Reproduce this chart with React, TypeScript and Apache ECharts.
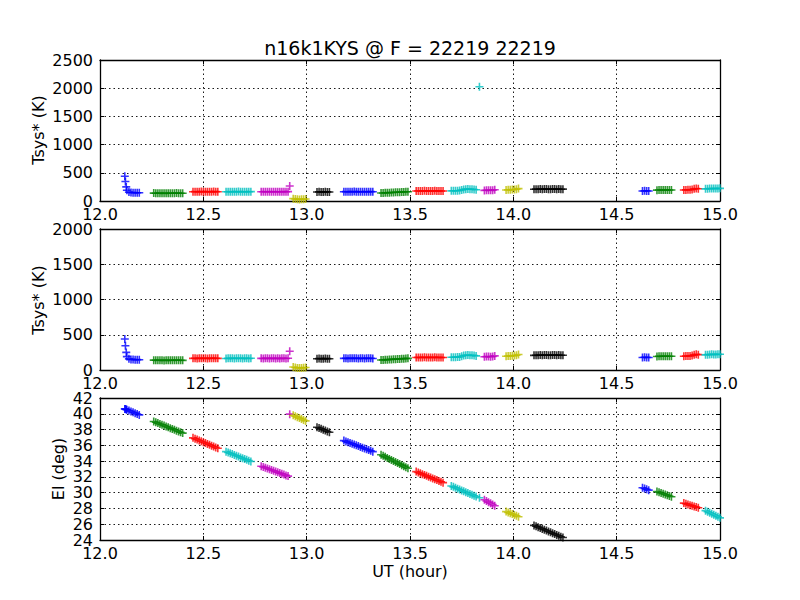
import React, { useEffect, useRef } from 'react';
import * as echarts from 'echarts';

// matplotlib classic colour cycle b, g, r, c, m, y, k
const colorCycle = ['#0000ff', '#008000', '#ff0000', '#00bfbf', '#bf00bf', '#bfbf00', '#000000'];

const chartTitle = 'n16k1KYS @ F = 22219 22219';
const xLabel = 'UT (hour)';
const tsysLabel = 'Tsys* (K)';
const elLabel = 'El (deg)';

// UT (hour) of each sample, one list per scan
const scanUT: number[][] = [
  [12.12, 12.123, 12.127, 12.13, 12.14, 12.15, 12.16, 12.17, 12.18, 12.19],
  [12.26, 12.27, 12.28, 12.29, 12.30, 12.31, 12.32, 12.33, 12.34, 12.35, 12.36, 12.37, 12.38, 12.39, 12.40],
  [12.45, 12.46, 12.47, 12.48, 12.49, 12.50, 12.51, 12.52, 12.53, 12.54, 12.55, 12.56, 12.57],
  [12.61, 12.62, 12.63, 12.64, 12.65, 12.66, 12.67, 12.68, 12.69, 12.70, 12.71, 12.72, 12.73],
  [12.78, 12.79, 12.80, 12.81, 12.82, 12.83, 12.84, 12.85, 12.86, 12.87, 12.88, 12.89, 12.90, 12.91, 12.918],
  [12.935, 12.945, 12.955, 12.965, 12.975, 12.985, 12.995],
  [13.05, 13.06, 13.07, 13.08, 13.09, 13.10, 13.11],
  [13.18, 13.19, 13.20, 13.21, 13.22, 13.23, 13.24, 13.25, 13.26, 13.27, 13.28, 13.29, 13.30, 13.31, 13.32],
  [13.36, 13.37, 13.38, 13.39, 13.40, 13.41, 13.42, 13.43, 13.44, 13.45, 13.46, 13.47, 13.48, 13.49],
  [13.53, 13.54, 13.55, 13.56, 13.57, 13.58, 13.59, 13.60, 13.61, 13.62, 13.63, 13.64, 13.65, 13.66],
  [13.70, 13.71, 13.72, 13.73, 13.74, 13.75, 13.76, 13.77, 13.78, 13.79, 13.80, 13.81, 13.82, 13.836],
  [13.86, 13.87, 13.88, 13.89, 13.90, 13.91],
  [13.965, 13.975, 13.985, 13.995, 14.005, 14.015, 14.025],
  [14.10, 14.11, 14.12, 14.13, 14.14, 14.15, 14.16, 14.17, 14.18, 14.19, 14.20, 14.21, 14.22, 14.23, 14.24],
  [14.625, 14.635, 14.645, 14.655],
  [14.695, 14.705, 14.715, 14.725, 14.735, 14.745, 14.755, 14.765],
  [14.825, 14.835, 14.845, 14.855, 14.865, 14.875, 14.885, 14.895],
  [14.93, 14.94, 14.95, 14.96, 14.97, 14.98, 14.99, 15.00, 15.01],
];

// Elevation (deg) of each sample
const scanEl: number[][] = [
  [40.62, 40.59, 40.55, 40.52, 40.41, 40.30, 40.19, 40.08, 39.97, 39.86],
  [39.03, 38.92, 38.82, 38.71, 38.61, 38.50, 38.39, 38.29, 38.18, 38.08, 37.97, 37.86, 37.76, 37.65, 37.55],
  [36.95, 36.84, 36.73, 36.62, 36.51, 36.40, 36.29, 36.18, 36.07, 35.96, 35.85, 35.74, 35.63],
  [35.20, 35.10, 34.99, 34.89, 34.78, 34.68, 34.58, 34.47, 34.37, 34.26, 34.16, 34.06, 33.95],
  [33.35, 33.25, 33.16, 33.06, 32.96, 32.87, 32.77, 32.67, 32.58, 32.48, 32.39, 32.29, 32.19, 32.10, 39.95],
  [39.80, 39.68, 39.57, 39.45, 39.33, 39.22, 39.10],
  [38.30, 38.20, 38.09, 37.98, 37.87, 37.76, 37.65],
  [36.60, 36.50, 36.40, 36.30, 36.20, 36.10, 36.00, 35.90, 35.80, 35.70, 35.60, 35.50, 35.40, 35.30, 35.20],
  [34.80, 34.67, 34.54, 34.41, 34.28, 34.15, 34.02, 33.88, 33.75, 33.62, 33.49, 33.36, 33.23, 33.10],
  [32.67, 32.56, 32.45, 32.35, 32.24, 32.13, 32.02, 31.91, 31.81, 31.70, 31.59, 31.48, 31.38, 31.27],
  [30.85, 30.74, 30.63, 30.51, 30.40, 30.29, 30.18, 30.06, 29.95, 29.84, 29.73, 29.61, 29.50, 29.35],
  [29.10, 28.95, 28.80, 28.65, 28.50, 28.35],
  [27.60, 27.49, 27.38, 27.28, 27.17, 27.06, 26.95],
  [25.85, 25.74, 25.63, 25.52, 25.41, 25.30, 25.19, 25.08, 24.97, 24.86, 24.75, 24.64, 24.53, 24.42, 24.31],
  [30.62, 30.52, 30.42, 30.32],
  [30.15, 30.06, 29.96, 29.87, 29.77, 29.68, 29.58, 29.49],
  [28.68, 28.59, 28.51, 28.42, 28.34, 28.25, 28.17, 28.08],
  [27.72, 27.59, 27.46, 27.33, 27.20, 27.07, 26.94, 26.81, 26.68],
];

// Tsys* (K) of each sample
const scanTsys: number[][] = [
  [440, 345, 250, 190, 158, 150, 148, 146, 147, 145],
  [140, 138, 137, 139, 138, 136, 137, 138, 139, 137, 138, 140, 139, 138, 137],
  [165, 166, 164, 165, 167, 166, 165, 164, 166, 165, 167, 166, 165],
  [164, 165, 166, 165, 164, 166, 167, 165, 164, 166, 165, 164, 166],
  [165, 164, 166, 165, 163, 165, 166, 164, 165, 163, 165, 166, 164, 166, 265],
  [42, 36, 30, 28, 30, 33, 36],
  [160, 162, 161, 160, 162, 161, 160],
  [165, 166, 164, 165, 166, 167, 165, 164, 166, 165, 164, 166, 165, 166, 164],
  [142, 143, 145, 147, 148, 150, 152, 154, 155, 157, 159, 161, 163, 165],
  [178, 179, 177, 178, 180, 179, 178, 177, 179, 180, 178, 179, 177, 178],
  [180, 181, 182, 183, 185, 195, 205, 210, 212, 210, 208, 205, 200, 2025],
  [188, 190, 191, 189, 192, 200],
  [196, 198, 200, 202, 204, 210, 220],
  [208, 210, 209, 211, 210, 212, 211, 210, 209, 211, 212, 210, 211, 209, 210],
  [178, 180, 179, 178],
  [192, 194, 195, 196, 195, 194, 196, 195],
  [195, 197, 198, 200, 205, 215, 222, 218],
  [215, 218, 220, 222, 221, 220, 222, 224, 223],
];

const xRange = { min: 12, max: 15, interval: 0.5 };
const yRanges = [
  { min: 0, max: 2500, interval: 500 },
  { min: 0, max: 2000, interval: 500 },
  { min: 24, max: 42, interval: 2 },
];

const FONT = 'DejaVu Sans';
const PLUS = 'path://M3.2,0H4.8V3.2H8V4.8H4.8V8H3.2V4.8H0V3.2H3.2Z';

export default function App() {
  const ref = useRef<HTMLDivElement>(null);

  useEffect(() => {
    if (!ref.current) return;
    const chart = echarts.init(ref.current, null, { renderer: 'svg' });

    const grids = [
      { left: 100, top: 60, width: 620, height: 141 },
      { left: 100, top: 229, width: 620, height: 141 },
      { left: 100, top: 398, width: 620, height: 142 },
    ];

    const frameLine = { show: true, onZero: false, lineStyle: { color: '#000', width: 1.3 } };
    const tick = { show: true, inside: true, length: 4, lineStyle: { color: '#000', width: 1 } };
    const gridLine = { show: true, lineStyle: { color: '#000', width: 0.9, type: [1.5, 3] } };
    const label = { color: '#000', fontSize: 16, fontFamily: FONT, hideOverlap: false };

    const xAxes: any[] = [];
    const yAxes: any[] = [];
    grids.forEach((_, i) => {
      xAxes.push({
        type: 'value', gridIndex: i, ...xRange, position: 'bottom',
        axisLine: frameLine, axisTick: tick, splitLine: gridLine,
        axisLabel: { ...label, margin: 5, showMinLabel: true, showMaxLabel: true, formatter: (v: number) => v.toFixed(1) },
      });
    });
    grids.forEach((_, i) => {
      xAxes.push({
        type: 'value', gridIndex: i, ...xRange, position: 'top',
        axisLine: frameLine, axisTick: tick, splitLine: { show: false }, axisLabel: { show: false },
      });
    });
    // left axes (0..2): frame, ticks, grid; for the El panel only every other label
    grids.forEach((_, i) => {
      const r = yRanges[i];
      yAxes.push({
        type: 'value', gridIndex: i, ...r, position: 'left',
        axisLine: frameLine, axisTick: tick, splitLine: gridLine,
        axisLabel: {
          ...label, margin: 7, showMinLabel: true, showMaxLabel: true,
          formatter: (v: number) =>
            i === 2 ? (Math.round((v - r.min) / r.interval) % 2 === 0 ? String(v) : '') : String(v),
        },
      });
    });
    // right axes (3..5)
    grids.forEach((_, i) => {
      yAxes.push({
        type: 'value', gridIndex: i, ...yRanges[i], position: 'right',
        axisLine: frameLine, axisTick: tick, splitLine: { show: false }, axisLabel: { show: false },
      });
    });
    // extra left axis (6) carrying the remaining El labels
    const rEl = yRanges[2];
    yAxes.push({
      type: 'value', gridIndex: 2, ...rEl, position: 'left',
      axisLine: { show: false }, axisTick: { show: false }, splitLine: { show: false },
      axisLabel: {
        ...label, margin: 7, showMinLabel: true, showMaxLabel: true,
        formatter: (v: number) => (Math.round((v - rEl.min) / rEl.interval) % 2 === 1 ? String(v) : ''),
      },
    });

    const series: any[] = [];
    scanUT.forEach((ut, s) => {
      const color = colorCycle[s % colorCycle.length];
      const base = { type: 'scatter', symbol: PLUS, symbolSize: 8, itemStyle: { color }, silent: true, z: 3 };
      const tsysData = ut.map((t, j) => [t, scanTsys[s][j]]);
      const elData = ut.map((t, j) => [t, scanEl[s][j]]);
      series.push({ ...base, xAxisIndex: 0, yAxisIndex: 0, data: tsysData });
      series.push({ ...base, xAxisIndex: 1, yAxisIndex: 1, data: tsysData });
      series.push({ ...base, xAxisIndex: 2, yAxisIndex: 2, data: elData });
    });

    const txt = (text: string, x: number, y: number, size: number, rot = 0) => ({
      type: 'text', x, y, rotation: rot, silent: true,
      style: { text, fontSize: size, fontFamily: FONT, fill: '#000', textAlign: 'center', textVerticalAlign: 'middle' },
    });

    chart.setOption({
      animation: false,
      backgroundColor: '#fff',
      grid: grids,
      xAxis: xAxes,
      yAxis: yAxes,
      series,
      graphic: [
        txt(chartTitle, 410, 48, 19),
        txt(xLabel, 410, 571, 16),
        txt(tsysLabel, 38, 130, 16, Math.PI / 2),
        txt(tsysLabel, 38, 300, 16, Math.PI / 2),
        txt(elLabel, 58, 469, 16, Math.PI / 2),
      ],
    });

    return () => chart.dispose();
  }, []);

  return (
    <div
      ref={ref}
      style={{ position: 'absolute', left: 0, top: 0, width: 800, height: 600, background: '#fff' }}
    />
  );
}
